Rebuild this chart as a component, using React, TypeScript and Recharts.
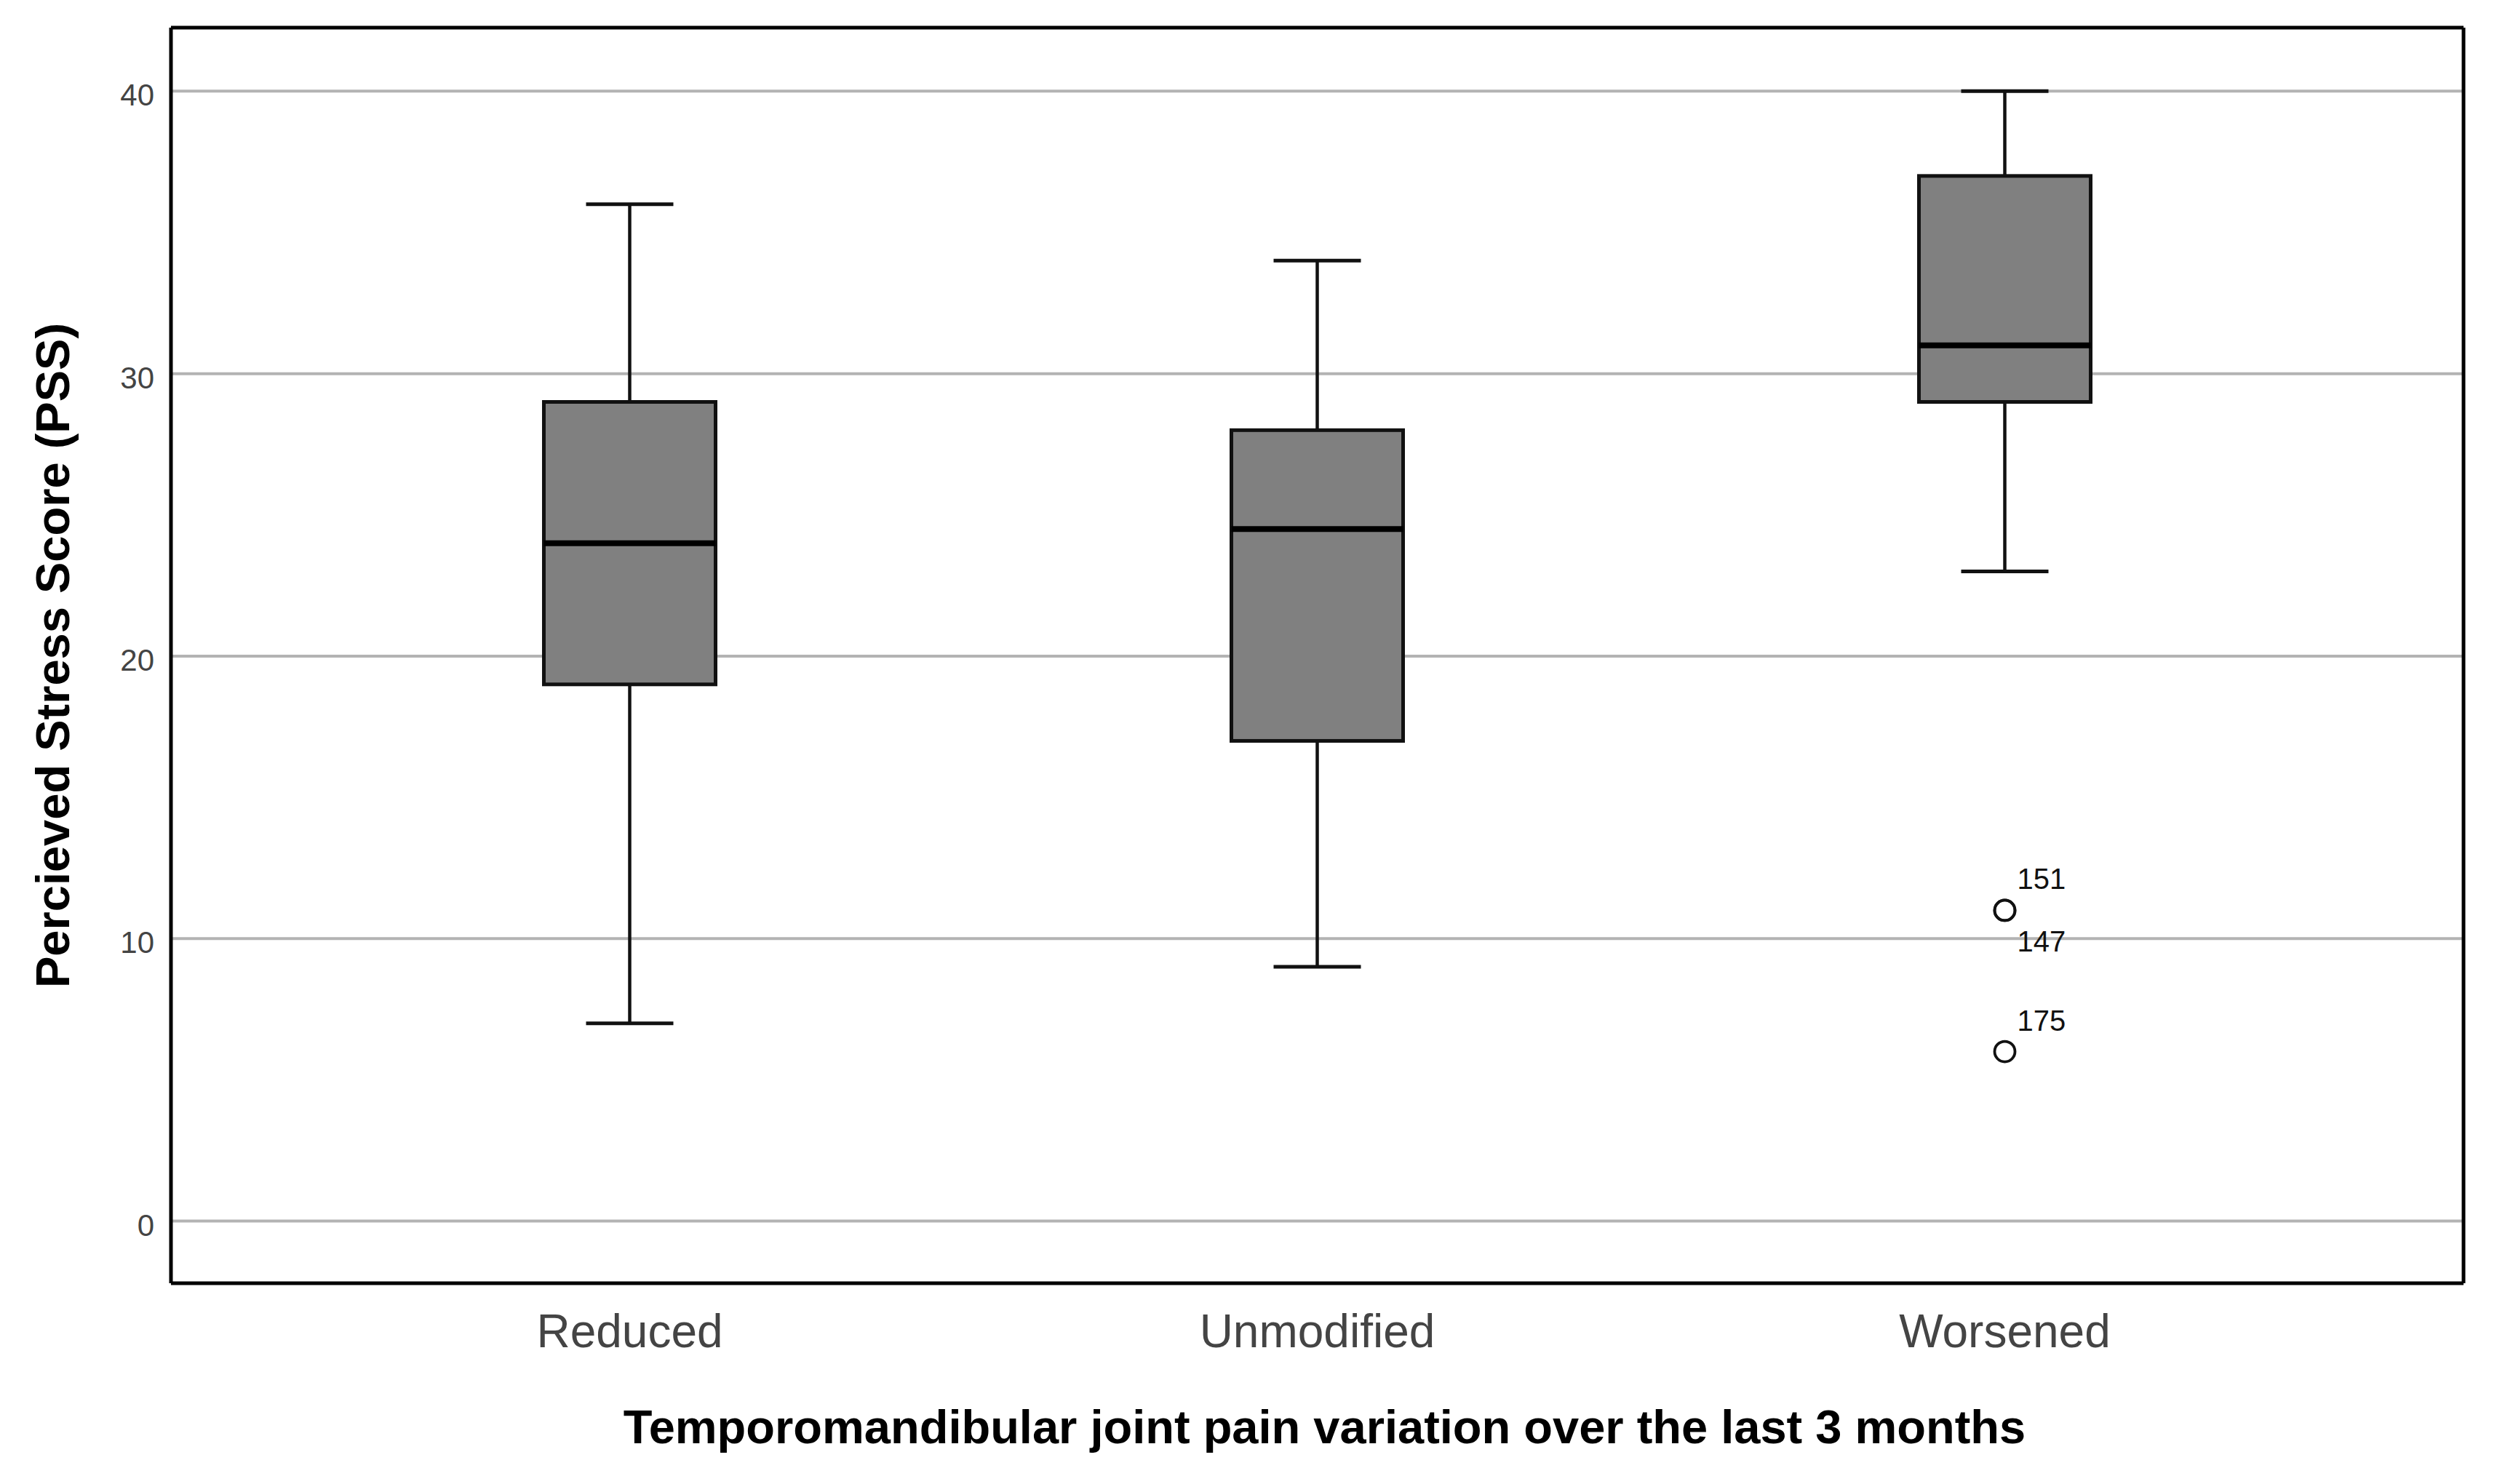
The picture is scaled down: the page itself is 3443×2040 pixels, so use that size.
import React from 'react';
import { ComposedChart, Bar, Line, XAxis, YAxis, CartesianGrid, Label } from 'recharts';

const categories = ['Reduced', 'Unmodified', 'Worsened'];
const whiskerLow = [7, 9, 23];
const quartile1 = [19, 17, 29];
const medians = [24, 24.5, 31];
const quartile3 = [29, 28, 37];
const whiskerHigh = [36, 34, 40];
const outlierCategory = ['Worsened', 'Worsened', 'Worsened'];
const outlierValue = [11, 11, 6];
const outlierId = ['151', '147', '175'];
const yTicks = [0, 10, 20, 30, 40];

const FONT = "Arial, 'Liberation Sans', sans-serif";

const data = categories.map((name, i) => {
  const row: any = {
    name,
    low: whiskerLow[i],
    q1: quartile1[i],
    median: medians[i],
    q3: quartile3[i],
    high: whiskerHigh[i],
  };
  outlierValue.forEach((v, k) => {
    row['out' + k] = outlierCategory[k] === name ? v : null;
  });
  return row;
});

const stackIndex = outlierValue.map((v, k) => {
  let c = 0;
  for (let j = 0; j < k; j++) {
    if (outlierValue[j] === v && outlierCategory[j] === outlierCategory[k]) c++;
  }
  return c;
});

const BOX_HALF = 118;
const CAP_HALF = 60;

const WhiskerShape = (props: any) => {
  const { x, y, width, height } = props;
  if (x == null || y == null || !isFinite(height)) return <g />;
  const cx = x + width / 2;
  const top = Math.min(y, y + height);
  const bottom = Math.max(y, y + height);
  return (
    <g>
      <line x1={cx} x2={cx} y1={top} y2={bottom} stroke="#111" strokeWidth={4.5} />
      <line x1={cx - CAP_HALF} x2={cx + CAP_HALF} y1={top} y2={top} stroke="#111" strokeWidth={5} />
      <line x1={cx - CAP_HALF} x2={cx + CAP_HALF} y1={bottom} y2={bottom} stroke="#111" strokeWidth={5} />
    </g>
  );
};

const BoxShape = (props: any) => {
  const { x, y, width, height } = props;
  if (x == null || y == null || !isFinite(height)) return <g />;
  const cx = x + width / 2;
  const top = Math.min(y, y + height);
  const h = Math.abs(height);
  return (
    <rect x={cx - BOX_HALF} y={top} width={BOX_HALF * 2} height={h} fill="#808080" stroke="#111" strokeWidth={5} />
  );
};

const MedianDot = (props: any) => {
  const { cx, cy, index } = props;
  if (cx == null || cy == null) return <g key={'m' + index} />;
  return (
    <line key={'m' + index} x1={cx - BOX_HALF} x2={cx + BOX_HALF} y1={cy} y2={cy} stroke="#000" strokeWidth={8} />
  );
};

const makeOutlierDot = (k: number) => (props: any) => {
  const { cx, cy, index, payload } = props;
  const v = payload ? payload['out' + k] : null;
  if (v == null || cx == null || cy == null) return <g key={'o' + k + '-' + index} />;
  const s = stackIndex[k];
  const ly = s === 0 ? cy - 29 : cy + 57 + (s - 1) * 40;
  return (
    <g key={'o' + k + '-' + index}>
      <circle cx={cx} cy={cy} r={14} fill="none" stroke="#111" strokeWidth={3.8} />
      <text x={cx + 17} y={ly} fontSize={40} fill="#111" fontFamily={FONT}>
        {outlierId[k]}
      </text>
    </g>
  );
};

const XTick = (props: any) => {
  const { x, y, payload } = props;
  return (
    <text x={x} y={y + 88} textAnchor="middle" fontSize={64} fill="#444" fontFamily={FONT}>
      {payload.value}
    </text>
  );
};

const YTick = (props: any) => {
  const { x, y, payload } = props;
  return (
    <text x={x - 23} y={y + 20} textAnchor="end" fontSize={42} fill="#444" fontFamily={FONT}>
      {payload.value}
    </text>
  );
};

const XTitle = (props: any) => {
  const vb = props.viewBox || {};
  return (
    <text
      x={vb.x + vb.width / 2 + 10}
      y={vb.y + 220}
      textAnchor="middle"
      fontSize={65}
      fontWeight="bold"
      fill="#000"
      fontFamily={FONT}
    >
      Temporomandibular joint pain variation over the last 3 months
    </text>
  );
};

const YTitle = (props: any) => {
  const vb = props.viewBox || {};
  const cy = vb.y + vb.height / 2;
  return (
    <text
      x={95}
      y={cy}
      transform={`rotate(-90, 95, ${cy})`}
      textAnchor="middle"
      fontSize={65}
      fontWeight="bold"
      fill="#000"
      fontFamily={FONT}
    >
      Percieved Stress Score (PSS)
    </text>
  );
};

const PAD = { left: 158, right: 158 };
const Y_DOMAIN: [number, number] = [-2.2, 42.25];

export default function App() {
  return (
    <div style={{ position: 'absolute', left: 0, top: 0, background: '#fff' }}>
      <ComposedChart width={3443} height={2040} data={data} margin={{ top: 0, right: 0, bottom: 0, left: 0 }}>
        <CartesianGrid vertical={false} stroke="#b3b3b3" strokeWidth={4} />
        <XAxis
          dataKey="name"
          scale="band"
          padding={PAD}
          height={276}
          axisLine={{ stroke: '#000', strokeWidth: 5 }}
          tickLine={false}
          tickSize={0}
          tickMargin={0}
          tick={<XTick />}
          interval={0}
        >
          <Label content={<XTitle />} />
        </XAxis>
        <XAxis dataKey="name" xAxisId="w" scale="band" padding={PAD} hide />
        <XAxis
          dataKey="name"
          xAxisId="top"
          orientation="top"
          scale="band"
          padding={PAD}
          height={38}
          axisLine={{ stroke: '#000', strokeWidth: 5 }}
          tick={false}
          tickLine={false}
        />
        <YAxis
          type="number"
          domain={Y_DOMAIN}
          ticks={yTicks}
          allowDataOverflow
          width={235}
          axisLine={{ stroke: '#000', strokeWidth: 5 }}
          tickLine={false}
          tickSize={0}
          tickMargin={0}
          tick={<YTick />}
          interval={0}
        >
          <Label content={<YTitle />} />
        </YAxis>
        <YAxis
          yAxisId="right"
          orientation="right"
          type="number"
          domain={Y_DOMAIN}
          ticks={yTicks}
          allowDataOverflow
          width={57}
          axisLine={{ stroke: '#000', strokeWidth: 5 }}
          tick={false}
          tickLine={false}
        />
        <Bar
          xAxisId="w"
          dataKey={(d: any) => [d.low, d.high]}
          shape={<WhiskerShape />}
          isAnimationActive={false}
          legendType="none"
        />
        <Bar
          dataKey={(d: any) => [d.q1, d.q3]}
          shape={<BoxShape />}
          isAnimationActive={false}
          legendType="none"
        />
        <Line
          dataKey="median"
          stroke="none"
          dot={MedianDot}
          activeDot={false}
          isAnimationActive={false}
          legendType="none"
        />
        {outlierValue.map((_, k) => (
          <Line
            key={'out' + k}
            dataKey={'out' + k}
            stroke="none"
            dot={makeOutlierDot(k)}
            activeDot={false}
            isAnimationActive={false}
            legendType="none"
          />
        ))}
      </ComposedChart>
    </div>
  );
}
